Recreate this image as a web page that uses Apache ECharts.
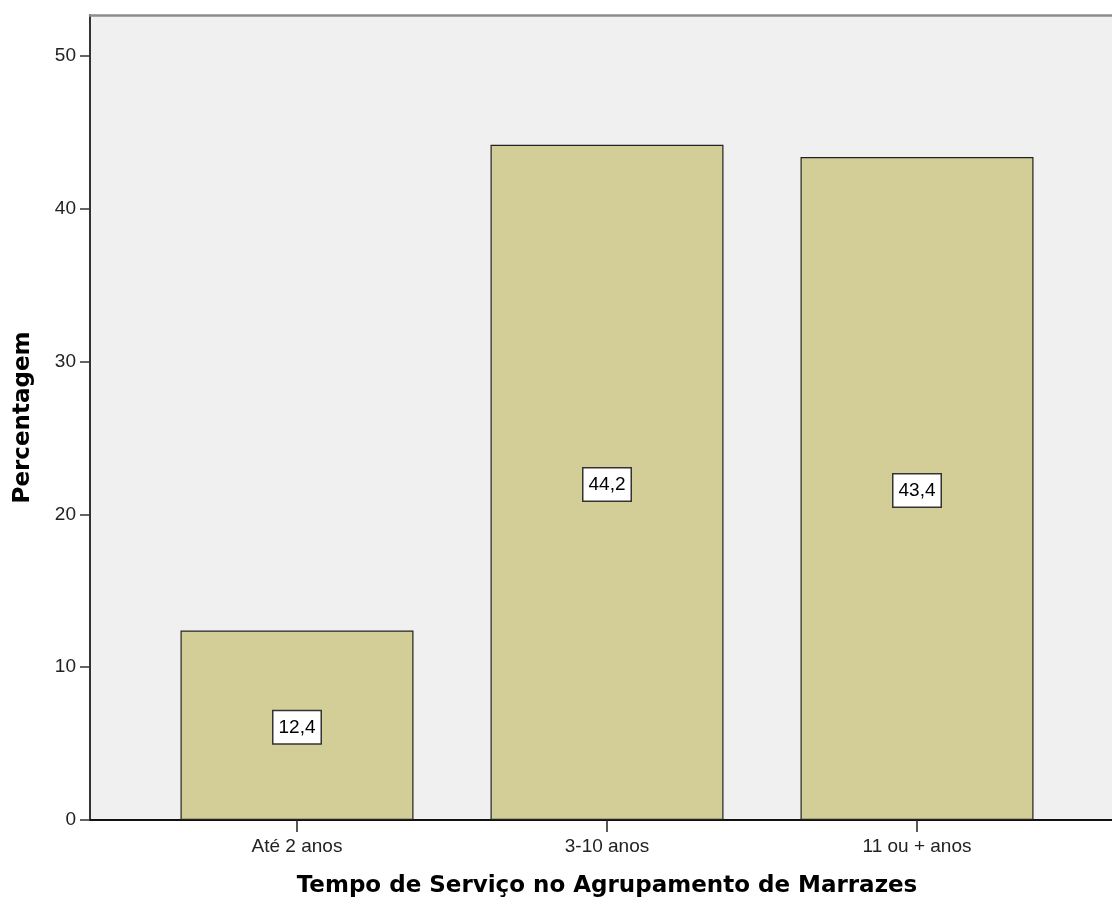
<!DOCTYPE html>
<html>
<head>
<meta charset="utf-8">
<script src="https://cdn.jsdelivr.net/npm/echarts@6/dist/echarts.min.js"></script>
<style>html,body{margin:0;padding:0;background:#fff}#c{width:1112px;height:904px}</style>
</head>
<body>
<div id="c"></div>
<script>
const categories = ['Até 2 anos', '3-10 anos', '11 ou + anos'];
const percentages = [12.4, 44.2, 43.4];
const yTicks = [0, 10, 20, 30, 40, 50];
const xTitle = 'Tempo de Serviço no Agrupamento de Marrazes';
const yTitle = 'Percentagem';

const chart = echarts.init(document.getElementById('c'), null, {renderer: 'canvas'});
const catIdx = categories.map((c, i) => i);
chart.setOption({
  animation: false,
  backgroundColor: '#ffffff',
  grid: {
    left: 90, top: 15, right: -12, bottom: 84,
    show: true, backgroundColor: '#f0f0f0', borderWidth: 0,
    containLabel: false, outerBoundsMode: 'none'
  },
  xAxis: [{
    type: 'value',
    min: -0.6677, max: 2.6677,
    position: 'bottom',
    name: xTitle,
    nameLocation: 'middle',
    nameGap: 55,
    nameMoveOverlap: false,
    nameTextStyle: {fontFamily: 'DejaVu Sans', fontWeight: 'bold', fontSize: 23, color: '#000'},
    axisLine: {show: true, onZero: false, lineStyle: {color: '#111', width: 2}},
    axisTick: {show: true, length: 12, customValues: catIdx, lineStyle: {color: '#222', width: 1.5}},
    axisLabel: {customValues: catIdx, formatter: v => categories[Math.round(v)], fontFamily: 'Liberation Sans', fontSize: 19, color: '#222', margin: 17},
    splitLine: {show: false}
  }, {
    type: 'value',
    min: -0.6677, max: 2.6677,
    position: 'top',
    axisLine: {show: true, onZero: false, lineStyle: {color: '#8c8c8c', width: 2.5}},
    axisTick: {show: false},
    axisLabel: {show: false},
    splitLine: {show: false}
  }],
  yAxis: {
    type: 'value',
    min: 0, max: 52.7, interval: 10,
    position: 'left',
    name: yTitle,
    nameLocation: 'middle',
    nameGap: 55,
    nameMoveOverlap: false,
    nameTextStyle: {fontFamily: 'DejaVu Sans', fontWeight: 'bold', fontSize: 23, color: '#000'},
    axisLine: {show: true, onZero: false, lineStyle: {color: '#333', width: 2}},
    axisTick: {show: true, length: 10, customValues: yTicks, lineStyle: {color: '#333', width: 1.5}},
    axisLabel: {customValues: yTicks, fontFamily: 'Liberation Sans', fontSize: 19, color: '#222', margin: 14},
    splitLine: {show: false}
  },
  series: [{
    type: 'bar',
    xAxisIndex: 0,
    data: percentages.map((v, i) => [i, v]),
    barWidth: 233,
    itemStyle: {color: '#d3ce98', borderColor: '#222', borderWidth: 1.2},
    label: {
      show: true, position: 'inside', offset: [0, 2],
      formatter: p => String(p.value[1]).replace('.', ','),
      fontFamily: 'Liberation Sans', fontSize: 19, color: '#000',
      backgroundColor: '#fff', borderColor: '#333', borderWidth: 1.5,
      padding: [7, 5, 6, 5]
    }
  }]
});
</script>
</body>
</html>
